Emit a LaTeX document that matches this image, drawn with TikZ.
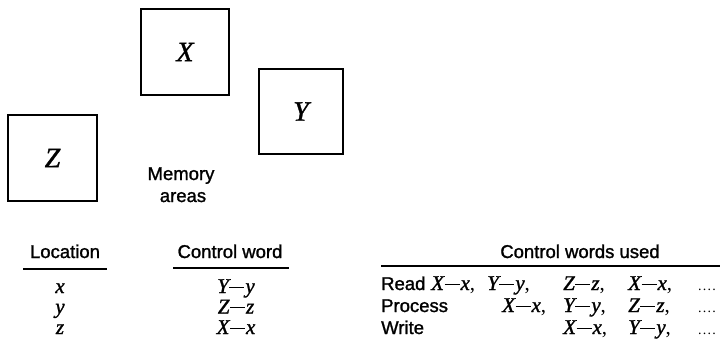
\documentclass[tikz,border=0pt]{standalone}
\usepackage{fontspec}
\setmainfont{Liberation Serif}
\setsansfont{Liberation Sans}[RawFeature={embolden=1.3}]
\newfontfamily\mitf{Liberation Serif Italic}[RawFeature={embolden=1.2}]
\newfontfamily\dashf{Liberation Serif}
\newcommand{\mv}[1]{{\mitf #1}}
\newcommand{\cwd}[2]{\mv{#1}\kern0.5pt\rule[5.2pt]{15pt}{1.3pt}\kern1pt\mv{#2}}
\newcommand{\dotsfour}{{\dashf\fontsize{14}{16}\selectfont.\kern1.2pt.\kern1.2pt.\kern1.2pt.}}
\begin{document}
\begin{tikzpicture}[x=1pt,y=-1pt,
  area/.style={draw, line width=1.6pt, inner sep=0pt,
    font=\fontsize{28}{30}\selectfont},
  head/.style={inner sep=0pt, anchor=base, font=\sffamily\fontsize{18.5}{20}\selectfont},
  cell/.style={inner sep=0pt, anchor=base, font=\fontsize{21}{23}\selectfont},
  lcell/.style={inner sep=0pt, anchor=base west, font=\fontsize{21}{23}\selectfont},
  lhead/.style={inner sep=0pt, anchor=base west, font=\sffamily\fontsize{18.5}{20}\selectfont},
  rulel/.style={line width=1.4pt}]
\useasboundingbox (0,0) rectangle (720,340);
% memory areas
\node[area, minimum width=88pt, minimum height=86pt] (X) at (185,52) {\mv{X}};
\node[area, minimum width=84pt, minimum height=85pt] (Y) at (301,111.5) {\mv{Y}};
\node[area, minimum width=89pt, minimum height=86pt] (Z) at (52.5,158) {\mv{Z}};
\node[head] (mem1) at (181,180) {Memory};
\node[head] (mem2) at (183,202) {areas};
% left table
\node[head] (loc) at (65,258) {Location};
\node[head] (cwh) at (230,258) {Control word};
\draw[rulel] (23,269) -- (107,269);
\draw[rulel] (173,268) -- (289,268);
\node[cell] (lx) at (60,293) {\mv{x}};
\node[cell] (ly) at (60,313.5) {\mv{y}};
\node[cell] (lz) at (60,334) {\mv{z}};
\node[cell] (cy) at (236,293) {\cwd{Y}{y}};
\node[cell] (cz) at (236,313.5) {\cwd{Z}{z}};
\node[cell] (cx) at (236,334) {\cwd{X}{x}};
% right table
\node[head] (used) at (580,258) {Control words used};
\draw[rulel] (381,266) -- (720,266);
\node[lhead] (read) at (381,290) {Read};
\node[lhead] (proc) at (381,312) {Process};
\node[lhead] (writ) at (381,334) {Write};
\node[lcell] (r1) at (431,290) {\cwd{X}{x},};
\node[lcell] (r2) at (487,290) {\cwd{Y}{y},};
\node[lcell] (r3) at (563,290) {\cwd{Z}{z},};
\node[lcell] (r4) at (628,290) {\cwd{X}{x},};
\node[lcell] (r5) at (698,290) {\dotsfour};
\node[lcell] (p1) at (502,312) {\cwd{X}{x},};
\node[lcell] (p2) at (563,312) {\cwd{Y}{y},};
\node[lcell] (p3) at (628,312) {\cwd{Z}{z},};
\node[lcell] (p4) at (698,312) {\dotsfour};
\node[lcell] (w1) at (563,334) {\cwd{X}{x},};
\node[lcell] (w2) at (628,334) {\cwd{Y}{y},};
\node[lcell] (w3) at (698,334) {\dotsfour};
\end{tikzpicture}
\end{document}
